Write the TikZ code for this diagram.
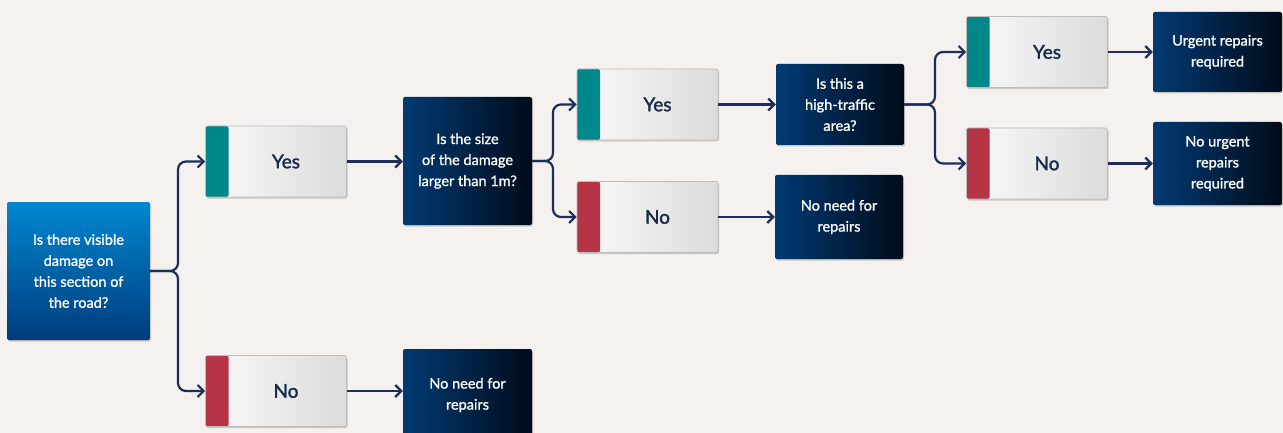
\documentclass[tikz,border=0pt]{standalone}
\usepackage{fontspec}
\setmainfont{Lato}
\newfontfamily\medfont{Lato}[FakeBold=1.2]
\newfontfamily\ansfont{Lato}[FakeBold=1.6]
\usetikzlibrary{arrows.meta,shadows}
\definecolor{bg}{HTML}{F4F1EE}
\definecolor{navy}{HTML}{1C2E59}
\definecolor{yescol}{HTML}{00878A}
\definecolor{nocol}{HTML}{B53446}
\definecolor{stt}{HTML}{0087D0}
\definecolor{stb}{HTML}{003C7C}
\definecolor{dkl}{HTML}{003A73}
\definecolor{dkr}{HTML}{000B19}
\definecolor{lgl}{HTML}{FAFAFA}
\definecolor{lgr}{HTML}{DCDCDC}
\definecolor{boxline}{HTML}{BDBDBD}
\definecolor{anstext}{HTML}{1B2A4A}
\begin{document}
\begin{tikzpicture}[x=1pt,y=-1pt,
  shad/.style={drop shadow={opacity=0.25,shadow xshift=1pt,shadow yshift=-1.5pt,fill=black!70}},
  qbox/.style={shad, rounded corners=2pt, text=white, align=center,
    font=\medfont\fontsize{14.5}{21}\selectfont, inner sep=0pt},
  dark/.style={qbox, left color=dkl, right color=dkr},
  startbox/.style={qbox, top color=stt, bottom color=stb},
  ans/.style={shad, rounded corners=2pt, draw=boxline, line width=0.6pt,
    left color=lgl, right color=lgr, minimum width=141pt, minimum height=71pt,
    inner sep=0pt, text=anstext, font=\ansfont\fontsize{19}{20}\selectfont},
  yesbox/.style={ans, path picture={\fill[yescol] (path picture bounding box.north west) rectangle ([xshift=23pt]path picture bounding box.south west);}},
  nobox/.style={ans, path picture={\fill[nocol] (path picture bounding box.north west) rectangle ([xshift=23pt]path picture bounding box.south west);}},
  conn/.style={draw=navy, line width=2.2pt, rounded corners=8pt,
    -{Straight Barb[length=6pt,width=12pt]}}
]
\useasboundingbox (0,0) rectangle (1283,433);
\fill[bg] (0,0) rectangle (1283,433);
\clip (0,0) rectangle (1283,433);

% nodes
\node[startbox, minimum width=143pt, minimum height=138pt] (start) at (78.5,271)
  {Is there visible\\damage on\\this section of\\the road?};
\node[yesbox] (yes1) at (276,161.5) {\hspace*{20pt}Yes};
\node[nobox]  (no1)  at (276,391)   {\hspace*{20pt}No};
\node[dark, minimum width=129pt, minimum height=128pt] (q2) at (467.5,161)
  {Is the size\\of the damage\\larger than 1m?};
\node[dark, minimum width=129pt, minimum height=92pt] (fin1) at (467.5,395)
  {No need for\\repairs};
\node[yesbox] (yes2) at (647.5,104.5) {\hspace*{20pt}Yes};
\node[nobox]  (no2)  at (647.5,217)   {\hspace*{20pt}No};
\node[dark, minimum width=128pt, minimum height=81pt] (q3) at (840,104.5)
  {Is this a\\high-traffic\\area?};
\node[dark, minimum width=128pt, minimum height=84pt] (fin2) at (839,217)
  {No need for\\repairs};
\node[yesbox] (yes3) at (1037,52)    {\hspace*{20pt}Yes};
\node[nobox]  (no3)  at (1037,163.5) {\hspace*{20pt}No};
\node[dark, minimum width=129pt, minimum height=80pt] (fin3) at (1217.5,52)
  {Urgent repairs\\required};
\node[dark, minimum width=129pt, minimum height=83pt] (fin4) at (1217.5,163.5)
  {No urgent\\repairs\\required};

% branch points
\coordinate (b1) at (178,271);
\coordinate (b2) at (553,161);
\coordinate (b3) at (935,104.5);

% connectors
\draw[conn] (start.east) -- (b1) |- (yes1.west);
\draw[conn] (start.east) -- (b1) |- (no1.west);
\draw[conn] (yes1.east) -- (yes1.east -| q2.west);
\draw[conn] (no1.east) -- (no1.east -| fin1.west);
\draw[conn] (q2.east) -- (b2) |- (yes2.west);
\draw[conn] (q2.east) -- (b2) |- (no2.west);
\draw[conn] (yes2.east) -- (yes2.east -| q3.west);
\draw[conn] (no2.east) -- (no2.east -| fin2.west);
\draw[conn] (q3.east) -- (b3) |- (yes3.west);
\draw[conn] (q3.east) -- (b3) |- (no3.west);
\draw[conn] (yes3.east) -- (yes3.east -| fin3.west);
\draw[conn] (no3.east) -- (no3.east -| fin4.west);
\end{tikzpicture}
\end{document}
